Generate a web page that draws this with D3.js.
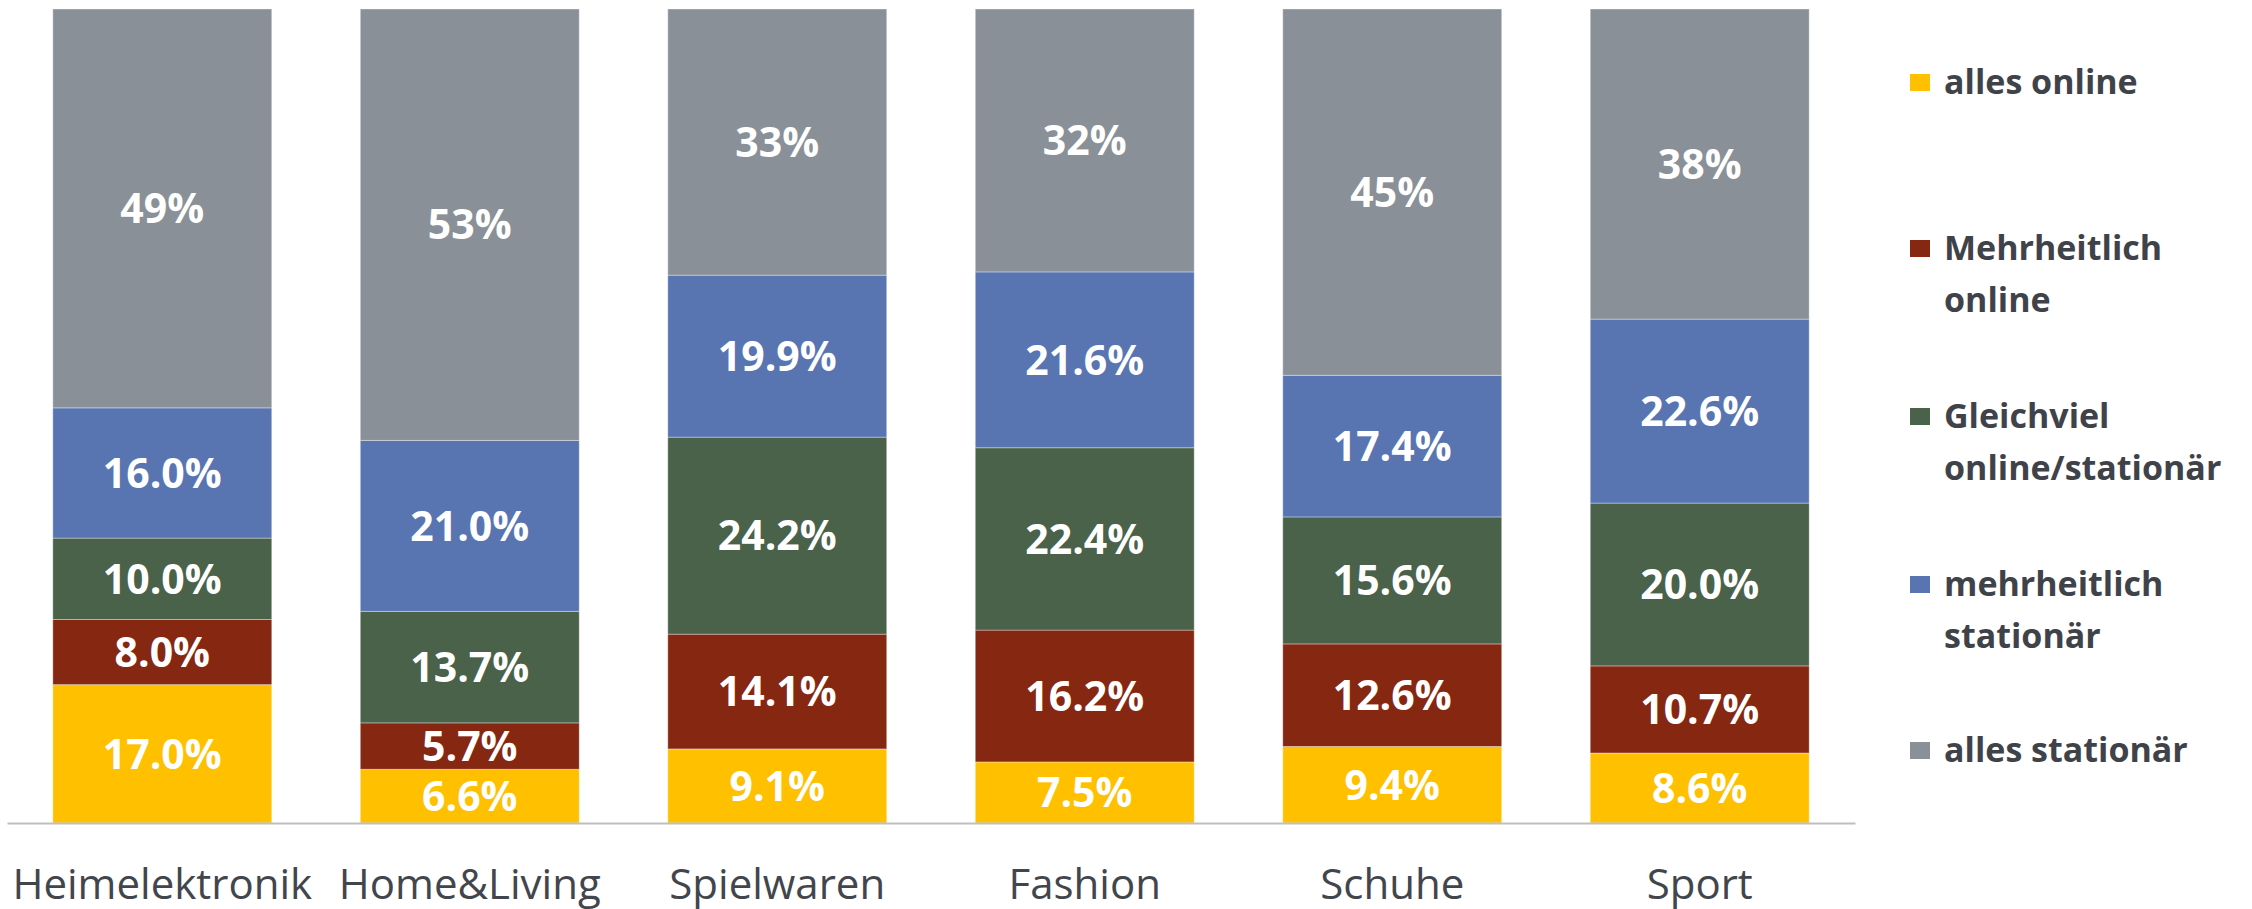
<!DOCTYPE html>
<html>
<head>
<meta charset="utf-8">
<script src="https://cdn.jsdelivr.net/npm/d3@7"></script>
<style>
  body { margin: 0; background: #fff; }
  svg { display: block; font-family: "Segoe UI", "Open Sans", sans-serif; }
</style>
</head>
<body>
<div id="chart"></div>
<script>
const categories = ["Heimelektronik", "Home&Living", "Spielwaren", "Fashion", "Schuhe", "Sport"];
const seriesNames = ["alles online", "Mehrheitlich online", "Gleichviel online/stationär", "mehrheitlich stationär", "alles stationär"];
const legendLines = [["alles online"], ["Mehrheitlich", "online"], ["Gleichviel", "online/stationär"], ["mehrheitlich", "stationär"], ["alles stationär"]];
const allesOnline = [17.0, 6.6, 9.1, 7.5, 9.4, 8.6];
const mehrOnline = [8.0, 5.7, 14.1, 16.2, 12.6, 10.7];
const gleichviel = [10.0, 13.7, 24.2, 22.4, 15.6, 20.0];
const mehrStationaer = [16.0, 21.0, 19.9, 21.6, 17.4, 22.6];
const allesStationaer = [49, 53, 32.7, 32.3, 45, 38.1];
const colors = ["#ffc000", "#862712", "#4a614a", "#5875b2", "#8a9098"];

const W = 2252, H = 909;
const seriesValues = [allesOnline, mehrOnline, gleichviel, mehrStationaer, allesStationaer];

// rows for d3.stack
const rows = categories.map((c, i) => {
  const r = { cat: c };
  seriesNames.forEach((s, k) => r[s] = seriesValues[k][i]);
  return r;
});
const stacked = d3.stack().keys(seriesNames)(rows);

const svg = d3.select("#chart").append("svg")
  .attr("width", W)
  .attr("height", H);

const x = d3.scaleBand()
  .domain(categories)
  .range([7, 1855])
  .paddingInner(0.288)
  .paddingOuter(0.149);
const y = d3.scaleLinear().domain([0, 100]).range([823, 9]);

const layers = svg.selectAll(".layer")
  .data(stacked)
  .enter().append("g")
  .attr("class", "layer")
  .attr("fill", (d, i) => colors[i]);

layers.selectAll("rect")
  .data(d => d)
  .enter().append("rect")
  .attr("x", d => x(d.data.cat))
  .attr("width", x.bandwidth())
  .attr("y", d => y(d[1]))
  .attr("height", d => y(d[0]) - y(d[1]))
  .attr("stroke", "rgba(255,255,255,0.35)")
  .attr("stroke-width", 1);

// value labels
stacked.forEach((layer, k) => {
  const fmt = k === 4 ? d3.format(".0f") : d3.format(".1f");
  svg.append("g").selectAll("text")
    .data(layer)
    .enter().append("text")
    .attr("x", d => x(d.data.cat) + x.bandwidth() / 2)
    .attr("y", d => (y(d[0]) + y(d[1])) / 2)
    .attr("dy", "0.36em")
    .attr("text-anchor", "middle")
    .attr("fill", "#fff")
    .attr("font-weight", 700)
    .attr("font-size", 41)
    .text(d => fmt(d[1] - d[0]) + "%");
});

// baseline axis
const xAxis = svg.append("g")
  .attr("transform", "translate(0," + y(0) + ")")
  .call(d3.axisBottom(x).tickSize(0).tickPadding(46).tickSizeOuter(0));
xAxis.select(".domain").attr("stroke", "#bfbfbf").attr("stroke-width", 2);
xAxis.selectAll("text")
  .attr("font-family", "'Segoe UI', 'Open Sans', sans-serif")
  .attr("font-size", 42)
  .attr("fill", "#42464c");

// legend
const legendY = [82, 248, 416, 584, 750];
const legend = svg.append("g").attr("class", "legend");
legendLines.forEach((lines, i) => {
  const g = legend.append("g").attr("transform", "translate(1910," + legendY[i] + ")");
  g.append("rect")
    .attr("x", 0).attr("y", -8)
    .attr("width", 20).attr("height", 17)
    .attr("fill", colors[i]);
  g.selectAll("text")
    .data(lines)
    .enter().append("text")
    .attr("x", 34)
    .attr("y", (d, j) => j * 52)
    .attr("dy", "0.36em")
    .attr("font-weight", 700)
    .attr("font-size", 34)
    .attr("fill", "#3f4349")
    .text(d => d);
});
</script>
</body>
</html>
